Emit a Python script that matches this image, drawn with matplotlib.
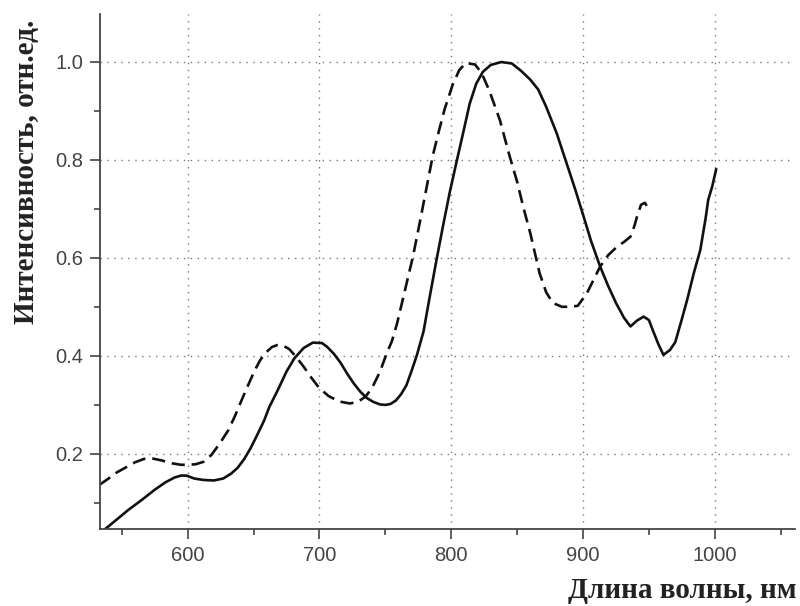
import matplotlib
matplotlib.use("Agg")
import matplotlib.pyplot as plt
from matplotlib.ticker import MultipleLocator

# solid curve
wl_solid = [537, 546, 555, 565, 575, 583, 590, 595, 599, 605, 612, 620, 627, 633,
            638, 643, 648, 653, 658, 662, 668, 675, 681, 688, 695, 702, 706, 711,
            716, 721, 726, 731, 736, 741, 746, 750, 754, 758, 762, 766, 770, 774,
            779, 784, 789, 794, 799, 804, 809, 814, 819, 824, 830, 838, 846, 853,
            860, 866, 872, 880, 887, 894, 900, 906, 913, 919, 925, 931, 936, 941,
            946, 950, 953, 957, 961, 966, 970, 975, 979, 984, 989, 993, 995, 998, 1001]
int_solid = [0.046, 0.066, 0.086, 0.106, 0.127, 0.142, 0.152, 0.156, 0.156, 0.150,
             0.147, 0.146, 0.150, 0.160, 0.172, 0.190, 0.213, 0.240, 0.268, 0.296,
             0.328, 0.368, 0.395, 0.416, 0.427, 0.426, 0.418, 0.404, 0.386, 0.364,
             0.344, 0.327, 0.314, 0.306, 0.301, 0.300, 0.302, 0.309, 0.322, 0.340,
             0.370, 0.402, 0.450, 0.525, 0.598, 0.668, 0.735, 0.795, 0.854, 0.914,
             0.955, 0.979, 0.993, 0.999, 0.996, 0.981, 0.963, 0.943, 0.908, 0.854,
             0.797, 0.740, 0.688, 0.635, 0.582, 0.543, 0.508, 0.478, 0.460, 0.472,
             0.480, 0.473, 0.452, 0.425, 0.402, 0.412, 0.428, 0.475, 0.514, 0.568,
             0.616, 0.680, 0.718, 0.745, 0.780]

# dashed curve
wl_dash = [533, 540, 546, 552, 560, 567, 573, 580, 588, 595, 600, 606, 612, 618,
           624, 631, 636, 641, 646, 651, 655, 659, 664, 668, 673, 677, 682, 688,
           694, 700, 707, 715, 723, 729, 735, 740, 746, 751, 755, 759, 765, 771,
           776, 781, 786, 791, 795, 801, 806, 811, 818, 823, 829, 837, 844, 850,
           855, 860, 867, 872, 877, 884, 890, 896, 903, 908, 913, 919, 926, 931,
           936, 939, 941, 944, 947, 950]
int_dash = [0.137, 0.150, 0.162, 0.171, 0.183, 0.190, 0.191, 0.187, 0.181, 0.178,
            0.178, 0.179, 0.184, 0.198, 0.220, 0.249, 0.278, 0.310, 0.341, 0.371,
            0.391, 0.406, 0.418, 0.422, 0.420, 0.414, 0.399, 0.378, 0.355, 0.334,
            0.318, 0.307, 0.303, 0.306, 0.317, 0.335, 0.368, 0.405, 0.430, 0.467,
            0.535, 0.603, 0.670, 0.739, 0.808, 0.862, 0.903, 0.952, 0.982, 0.997,
            0.994, 0.977, 0.940, 0.880, 0.810, 0.755, 0.700, 0.650, 0.569, 0.530,
            0.508, 0.500, 0.500, 0.502, 0.528, 0.555, 0.582, 0.605, 0.623, 0.632,
            0.643, 0.665, 0.684, 0.708, 0.712, 0.698]

x_major = [600, 700, 800, 900, 1000]
y_major = [0.2, 0.4, 0.6, 0.8, 1.0]

fig = plt.figure(figsize=(8, 6.06), dpi=100)
ax = fig.add_axes([0.125, 0.127, 0.869, 0.850])

ax.plot(wl_solid, int_solid, color="#111111", lw=1.9, solid_joinstyle="round")
ax.plot(wl_dash, int_dash, color="#111111", lw=1.9, dashes=(5, 2.6),
        dash_joinstyle="round")

ax.set_xlim(533.5, 1061)
ax.set_ylim(0.047, 1.097)
ax.set_xticks(x_major)
ax.set_yticks(y_major)
ax.xaxis.set_minor_locator(MultipleLocator(50))
ax.yaxis.set_minor_locator(MultipleLocator(0.1))
ax.set_yticklabels([f"{v:.1f}" for v in y_major])

ax.grid(True, which="major", color="#777777", lw=1.0, linestyle=(0, (1, 4)))
for s in ["top", "right"]:
    ax.spines[s].set_visible(False)
for s in ["left", "bottom"]:
    ax.spines[s].set_color("#444444")
    ax.spines[s].set_linewidth(1.3)

ax.tick_params(which="major", direction="out", length=7, width=1.2, color="#444444",
               labelsize=14.5, labelcolor="#444444", pad=5)
ax.tick_params(which="minor", direction="out", length=4.5, width=1.2, color="#444444")
for lab in ax.get_xticklabels() + ax.get_yticklabels():
    lab.set_family("Liberation Sans")

fig.text(0.033, 0.716, "Интенсивность, отн.ед.", rotation=90, ha="center", va="center",
         family="Liberation Serif", fontweight="bold", fontsize=21, color="#222222")
fig.text(0.996, 0.014, "Длина волны, нм", ha="right", va="baseline",
         family="Liberation Serif", fontweight="bold", fontsize=21, color="#222222")

fig.savefig("out.png", dpi=100)
